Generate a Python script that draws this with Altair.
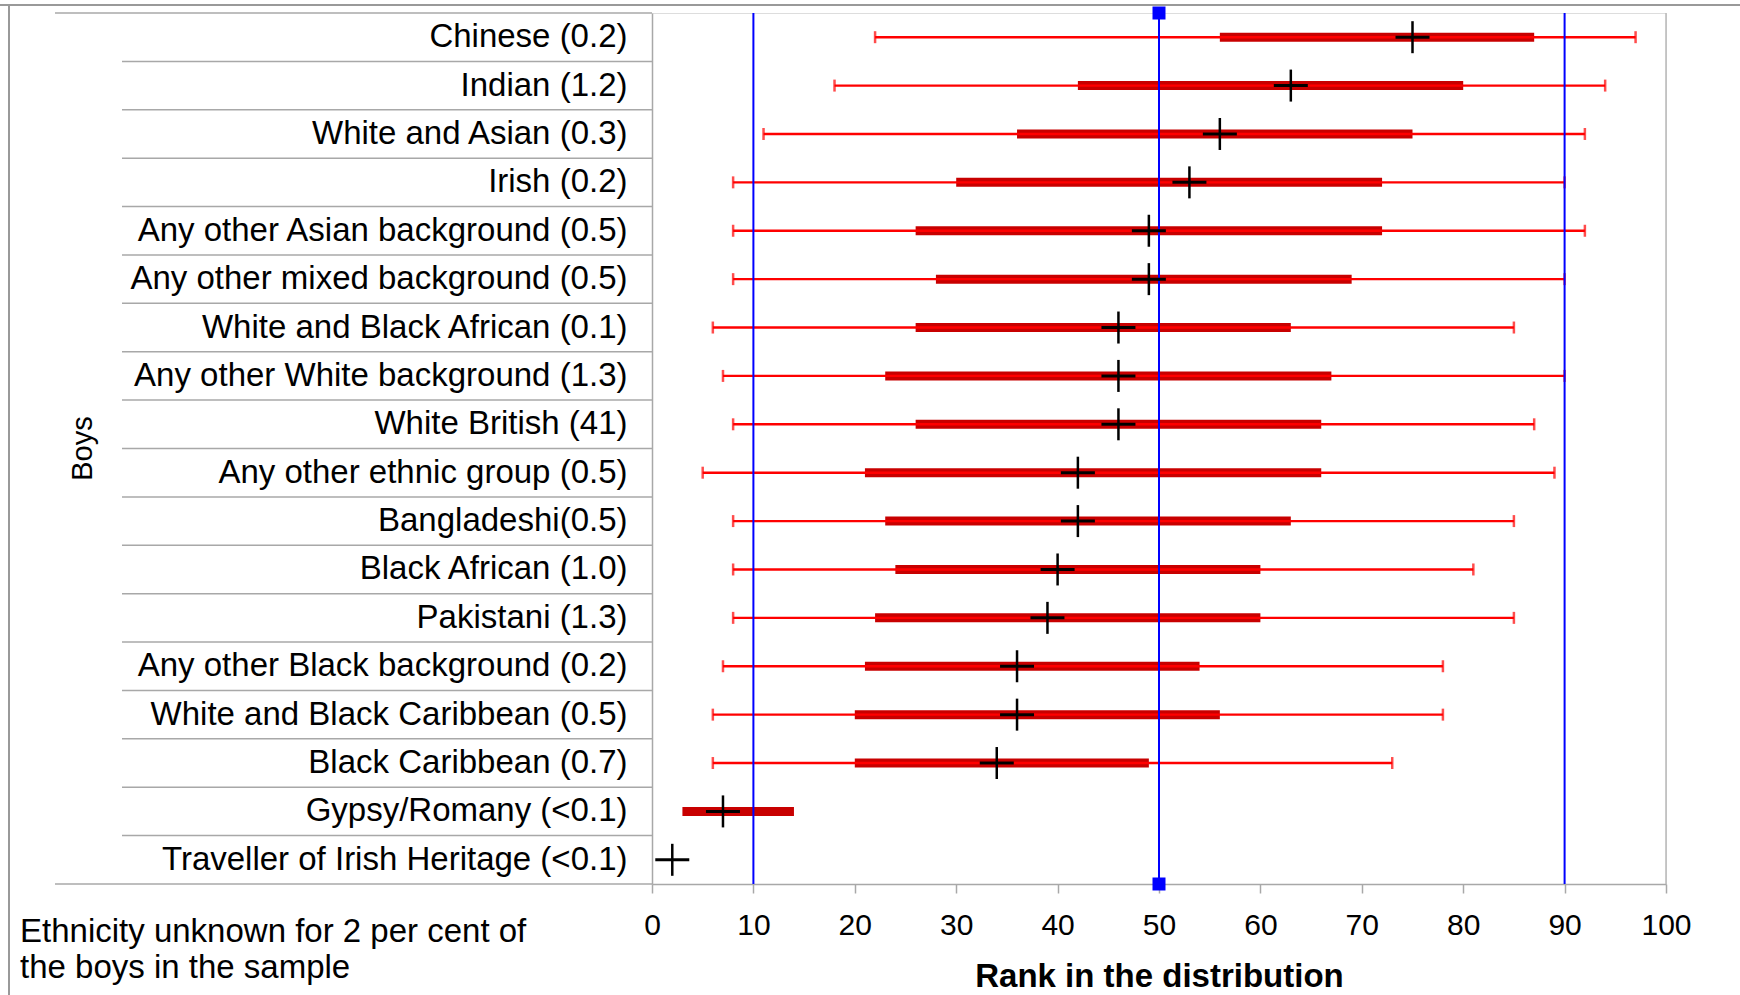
import altair as alt
import pandas as pd

labels = ["Chinese (0.2)", "Indian (1.2)", "White and Asian (0.3)", "Irish (0.2)",
          "Any other Asian background (0.5)", "Any other mixed background (0.5)",
          "White and Black African (0.1)", "Any other White background (1.3)",
          "White British (41)", "Any other ethnic group (0.5)", "Bangladeshi(0.5)",
          "Black African (1.0)", "Pakistani (1.3)", "Any other Black background (0.2)",
          "White and Black Caribbean (0.5)", "Black Caribbean (0.7)",
          "Gypsy/Romany (<0.1)", "Traveller of Irish Heritage (<0.1)"]
p10 = [22, 18, 11, 8, 8, 8, 6, 7, 8, 5, 8, 8, 8, 7, 6, 6, None, None]
p90 = [97, 94, 92, 90, 92, 90, 85, 90, 87, 89, 85, 81, 85, 78, 78, 73, None, None]
q1 = [56, 42, 36, 30, 26, 28, 26, 23, 26, 21, 23, 24, 22, 21, 20, 20, 3, None]
q3 = [87, 80, 75, 72, 72, 69, 63, 67, 66, 66, 63, 60, 60, 54, 56, 49, 14, None]
median = [75, 63, 56, 53, 49, 49, 46, 46, 46, 42, 42, 40, 39, 36, 36, 34, 7, 2]
ref_lines = [10, 50, 90]
x_ticks = list(range(0, 101, 10))
x_title = "Rank in the distribution"
y_title = "Boys"
note = ["Ethnicity unknown for 2 per cent of", "the boys in the sample"]

df = pd.DataFrame({"label": labels, "p10": p10, "p90": p90, "q1": q1, "q3": q3, "median": median})
refs = pd.DataFrame({"ref": ref_lines})
seps = pd.DataFrame({"label": labels[1:]})
one = pd.DataFrame({"k": [0]})

W, H = 1014, 871
FONT = "Liberation Sans"
GRAY = "#a8a8a8"

xs = alt.Scale(domain=[0, 100], nice=False, zero=False)
xaxis = alt.Axis(values=x_ticks, grid=False, domainColor=GRAY, domainWidth=1.5,
                 tickColor=GRAY, tickSize=9, tickWidth=1.5, labelFontSize=30,
                 labelColor="black", labelPadding=17, labelFont=FONT, labelFlush=False,
                 labelFontWeight="normal",
                 titleFont=FONT, titleFontSize=33, titleFontWeight="bold",
                 titleColor="black", titlePadding=20)
ys = alt.Scale(type="band", domain=labels, paddingInner=0, paddingOuter=0)
yaxis = alt.Axis(ticks=False, grid=False, domainColor=GRAY, domainWidth=1.5,
                 labelFontSize=33, labelColor="black", labelFont=FONT,
                 labelFontWeight="normal",
                 labelPadding=25, labelLimit=700, title=None)


def X(f):
    return alt.X(f"{f}:Q", scale=xs, axis=xaxis, title=x_title)


def Y(bp=None):
    if bp is None:
        return alt.Y("label:N", scale=ys, axis=yaxis, sort=labels)
    return alt.Y("label:N", scale=ys, axis=yaxis, sort=labels, bandPosition=bp)


base = alt.Chart(df)
single = alt.Chart(one)

bars = base.mark_bar(color="#c80000", height=9).encode(x=X("q1"), x2="q3", y=Y())
whisk = base.mark_rule(color="#ff0000", strokeWidth=2.4).encode(x=X("p10"), x2="p90", y=Y())
cap_lo = base.mark_tick(color="#ff0000", size=12, thickness=2.5).encode(x=X("p10"), y=Y())
cap_hi = base.mark_tick(color="#ff0000", size=12, thickness=2.5).encode(x=X("p90"), y=Y())
med_v = base.mark_tick(color="black", size=32, thickness=2.5, opacity=1).encode(x=X("median"), y=Y())
med_h = base.mark_tick(color="black", size=34, thickness=3, opacity=1, orient="horizontal").encode(x=X("median"), y=Y())

blue = alt.Chart(refs).mark_rule(color="#0000ff", strokeWidth=2).encode(x=X("ref"))
mid = alt.Chart(refs).transform_filter("datum.ref == 50")
sq_top = mid.mark_square(color="#0000ff", size=169, opacity=1).encode(x=X("ref"), y=alt.value(0))
sq_bot = mid.mark_square(color="#0000ff", size=169, opacity=1).encode(x=X("ref"), y=alt.value(H))

sep_lines = alt.Chart(seps).mark_rule(color=GRAY, strokeWidth=1.5).encode(
    y=Y(0), x=alt.value(-530), x2=alt.value(0))
top_line = single.mark_rule(color=GRAY, strokeWidth=1.5).encode(
    y=alt.value(0), x=alt.value(-597), x2=alt.value(0))
bot_line = single.mark_rule(color=GRAY, strokeWidth=1.5).encode(
    y=alt.value(H), x=alt.value(-597), x2=alt.value(0))
right_line = single.mark_rule(color="#b8b8b8", strokeWidth=1.5).encode(
    x=alt.value(W), y=alt.value(0), y2=alt.value(H))
frame_top = single.mark_rule(color="#999999", strokeWidth=2).encode(
    y=alt.value(-8), x=alt.value(-652), x2=alt.value(1088))
frame_left = single.mark_rule(color="#999999", strokeWidth=2).encode(
    x=alt.value(-643), y=alt.value(-8), y2=alt.value(982))

boys = single.mark_text(text=y_title, angle=270, fontSize=29, font=FONT, color="black",
                        fontWeight="normal", baseline="middle", align="center").encode(
    x=alt.value(-569), y=alt.value(H / 2))
note_txt = single.mark_text(text=note, fontSize=33, font=FONT, color="black",
                            fontWeight="normal", align="left", baseline="alphabetic",
                            lineHeight=36).encode(
    x=alt.value(-632), y=alt.value(929))

chart = alt.layer(
    frame_top, frame_left, sep_lines, top_line, bot_line, right_line,
    bars, whisk, cap_lo, cap_hi, blue, med_v, med_h, sq_top, sq_bot, boys, note_txt
).properties(
    width=W, height=H, autosize="none",
    padding={"left": 652, "top": 13, "right": 74, "bottom": 111}
).configure_view(stroke=None).configure(background="white")

chart.save("out.html", embed_options={"renderer": "svg", "actions": False})
